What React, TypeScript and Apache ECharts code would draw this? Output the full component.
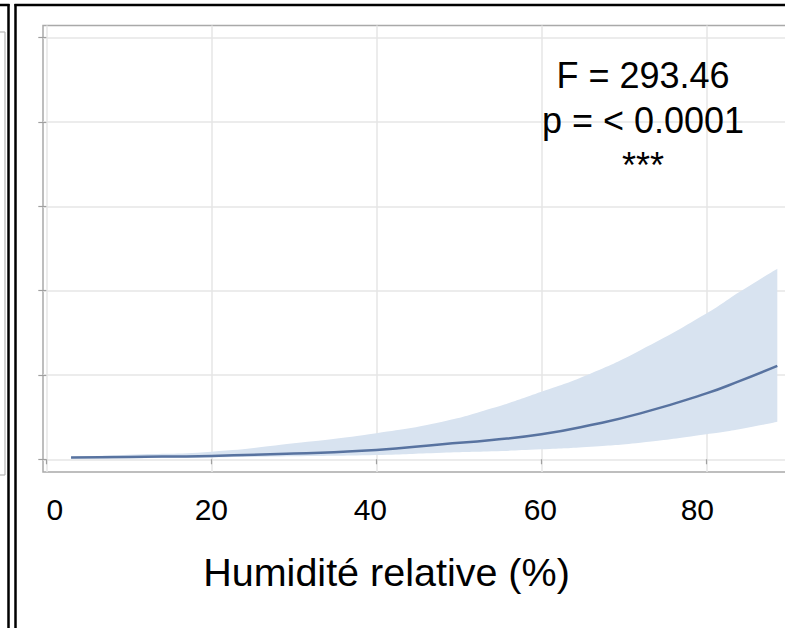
import React, { useEffect, useRef } from "react";
import * as echarts from "echarts";

// Humidity (%) sample points along the fitted curve
const humidity = [3, 10, 20, 30, 40, 48, 54, 60, 66, 72, 80, 84, 88.6];
// Fitted response
const fitted = [0.02, 0.028, 0.04, 0.068, 0.11, 0.178, 0.228, 0.296, 0.406, 0.544, 0.781, 0.927, 1.108];
// Confidence band
const upperCI = [0.03, 0.055, 0.09, 0.19, 0.31, 0.445, 0.604, 0.8, 1.018, 1.293, 1.728, 1.983, 2.26];
const lowerCI = [0.01, 0.013, 0.022, 0.035, 0.05, 0.078, 0.095, 0.118, 0.149, 0.196, 0.296, 0.355, 0.445];
// Axis ticks
const xTicks = [0, 20, 40, 60, 80];
const yTicks = [0, 1, 2, 3, 4, 5];
// Annotation
const statLines = ["F = 293.46", "p = < 0.0001", "***"];
const xName = "Humidité relative (%)";

const FONT = "'Liberation Sans', Arial, Helvetica, sans-serif";

export default function App() {
  const ref = useRef<HTMLDivElement>(null);

  useEffect(() => {
    if (!ref.current) return;
    const chart = echarts.init(ref.current, undefined, { renderer: "svg" });

    // value first, humidity second, so that the stack is applied to the value dimension
    const lowerData = humidity.map((x, i) => [lowerCI[i], x]);
    const bandData = humidity.map((x, i) => [upperCI[i] - lowerCI[i], x]);
    const fitData = humidity.map((x, i) => [x, fitted[i]]);

    const black = "#000";
    const labelBase = { color: black, fontSize: 30, fontFamily: FONT };
    // small horizontal nudges of individual tick labels, as in the original figure
    const labelPad: Record<string, number[]> = {
      t0: [0, 0, 0, 17],
      t20: [0, 0, 0, 0],
      t40: [0, 12, 0, 0],
      t60: [0, 2, 0, 0],
      t80: [0, 18, 0, 0],
    };
    const rich: Record<string, any> = {};
    Object.keys(labelPad).forEach((k) => {
      rich[k] = { ...labelBase, padding: labelPad[k] };
    });

    const option: any = {
      animation: false,
      backgroundColor: "#fff",
      grid: {
        left: 43,
        top: 25.5,
        width: 750,
        height: 446.5,
        show: true,
        borderColor: "#a9a9a9",
        borderWidth: 1.5,
        backgroundColor: "transparent",
        outerBoundsMode: "none",
        containLabel: false,
      },
      xAxis: {
        type: "value",
        min: -0.4,
        max: 90.5,
        axisLine: { show: false },
        axisTick: {
          show: true,
          length: 5,
          customValues: xTicks,
          lineStyle: { color: "#a0a0a0", width: 1.2 },
        },
        axisLabel: {
          customValues: xTicks,
          ...labelBase,
          margin: 22,
          formatter: (v: number) => `{t${v}|${v}}`,
          rich,
        },
        splitLine: { show: true, lineStyle: { color: "#e6e6e6", width: 1.5 } },
        name: xName,
        nameLocation: "middle",
        nameGap: 80,
        nameTextStyle: {
          color: black,
          fontSize: 39.5,
          fontFamily: FONT,
          padding: [0, 63, 0, 0],
        },
      },
      yAxis: {
        type: "value",
        min: -0.151,
        max: 5.145,
        axisLine: { show: false },
        axisTick: {
          show: true,
          length: 8,
          customValues: yTicks,
          lineStyle: { color: "#a0a0a0", width: 1.2 },
        },
        axisLabel: { show: false, customValues: yTicks },
        splitLine: { show: true, lineStyle: { color: "#e6e6e6", width: 1.5 } },
      },
      series: [
        {
          type: "line",
          data: lowerData,
          encode: { x: 1, y: 0 },
          stack: "ci",
          smooth: true,
          symbol: "none",
          lineStyle: { width: 0, opacity: 0 },
          silent: true,
          z: 1,
        },
        {
          type: "line",
          data: bandData,
          encode: { x: 1, y: 0 },
          stack: "ci",
          smooth: true,
          symbol: "none",
          lineStyle: { width: 0, opacity: 0 },
          areaStyle: { color: "#d8e3f0", opacity: 1 },
          silent: true,
          z: 1,
        },
        {
          type: "line",
          data: fitData,
          smooth: true,
          symbol: "none",
          lineStyle: { color: "#5873a0", width: 2.5 },
          z: 3,
        },
      ],
      graphic: [
        // left (neighbouring) panel remnants
        { type: "line", shape: { x1: 5, y1: 32, x2: 5, y2: 475 }, style: { stroke: "#b5b5b5", lineWidth: 1.2 } },
        { type: "line", shape: { x1: 0, y1: 32, x2: 5, y2: 32 }, style: { stroke: "#b5b5b5", lineWidth: 1.2 } },
        { type: "line", shape: { x1: 0, y1: 475, x2: 5, y2: 475 }, style: { stroke: "#b5b5b5", lineWidth: 1.2 } },
        { type: "line", shape: { x1: 0, y1: 5, x2: 9.5, y2: 5 }, style: { stroke: "#000", lineWidth: 2.5 } },
        { type: "line", shape: { x1: 8.5, y1: 4, x2: 8.5, y2: 628 }, style: { stroke: "#000", lineWidth: 2.5 } },
        // this panel's border
        { type: "line", shape: { x1: 14.5, y1: 5, x2: 800, y2: 5 }, style: { stroke: "#000", lineWidth: 2.5 } },
        { type: "line", shape: { x1: 15.5, y1: 4, x2: 15.5, y2: 628 }, style: { stroke: "#000", lineWidth: 2.5 } },
        {
          type: "text",
          x: 643,
          y: 120,
          z: 10,
          style: {
            text: statLines.join("\n"),
            fill: black,
            fontSize: 36,
            fontFamily: FONT,
            align: "center",
            verticalAlign: "middle",
            lineHeight: 45,
          },
        },
      ],
    };

    chart.setOption(option);
    return () => chart.dispose();
  }, []);

  return (
    <div style={{ position: "fixed", left: 0, top: 0, width: 785, height: 628, overflow: "hidden", background: "#fff" }}>
      <div ref={ref} style={{ width: 800, height: 628 }} />
    </div>
  );
}
